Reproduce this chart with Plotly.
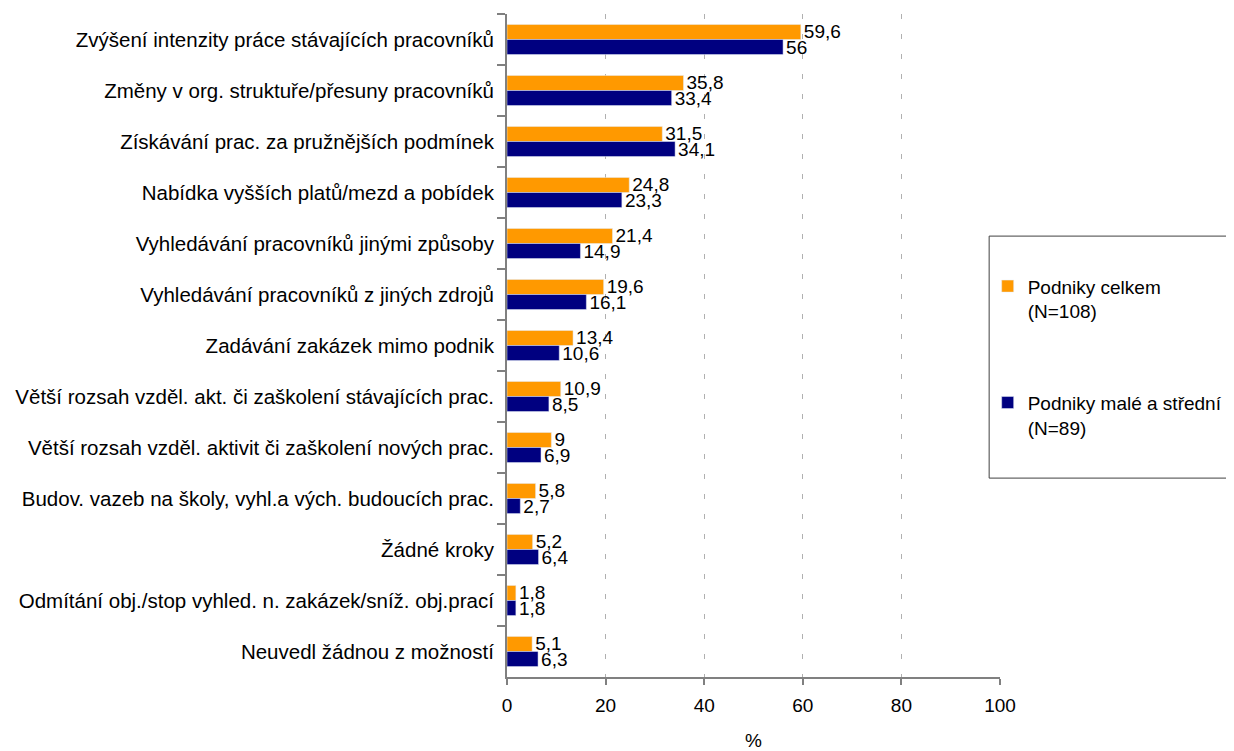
import plotly.graph_objects as go

categories = [
    "Zvýšení intenzity práce stávajících pracovníků",
    "Změny v org. struktuře/přesuny pracovníků",
    "Získávání prac. za pružnějších podmínek",
    "Nabídka vyšších platů/mezd a pobídek",
    "Vyhledávání pracovníků jinými způsoby",
    "Vyhledávání pracovníků z jiných zdrojů",
    "Zadávání zakázek mimo podnik",
    "Větší rozsah vzděl. akt. či zaškolení stávajících prac.",
    "Větší rozsah vzděl. aktivit či zaškolení nových prac.",
    "Budov. vazeb na školy, vyhl.a vých. budoucích prac.",
    "Žádné kroky",
    "Odmítání obj./stop vyhled. n. zakázek/sníž. obj.prací",
    "Neuvedl žádnou z možností",
]
celkem = [59.6, 35.8, 31.5, 24.8, 21.4, 19.6, 13.4, 10.9, 9, 5.8, 5.2, 1.8, 5.1]
male_stredni = [56, 33.4, 34.1, 23.3, 14.9, 16.1, 10.6, 8.5, 6.9, 2.7, 6.4, 1.8, 6.3]

name_celkem = "Podniky celkem<br>(N=108)"
name_male = "Podniky malé a střední<br>(N=89)"


def fmt(v):
    return f"{v:g}".replace(".", ",")


FONT = "Liberation Sans, Arial, sans-serif"

fig = go.Figure()
fig.add_trace(go.Bar(
    y=categories, x=celkem, orientation="h", name=name_celkem,
    marker_color="#FF9900", text=[fmt(v) for v in celkem],
    textposition="outside", constraintext="none", cliponaxis=False,
    textfont=dict(size=19, color="black"), legendgroup="a",
))
fig.add_trace(go.Bar(
    y=categories, x=male_stredni, orientation="h", name=name_male,
    marker_color="#000080", text=[fmt(v) for v in male_stredni],
    textposition="outside", constraintext="none", cliponaxis=False,
    textfont=dict(size=19, color="black"), legendgroup="b",
))

# page body has an 8px margin, so the figure is drawn 8px smaller
fig.update_layout(
    width=1226, height=743,
    margin=dict(l=499, r=234, t=6, b=74),
    paper_bgcolor="white", plot_bgcolor="white",
    font=dict(family=FONT, size=20.5, color="black"),
    barmode="group", bargap=0.41, bargroupgap=0,
    legend=dict(
        x=0.975, xanchor="left", y=0.618, yanchor="top",
        bgcolor="rgba(0,0,0,0)", tracegroupgap=64, valign="top",
        font=dict(size=19),
    ),
    showlegend=True,
)
fig.update_xaxes(
    range=[0, 100], dtick=20, showgrid=True, gridcolor="#b0b0b0",
    griddash="5px,15px", gridwidth=1, showline=True, linecolor="#808080",
    linewidth=2, ticks="outside", ticklen=6, tickcolor="#808080",
    tickwidth=2, ticklabelstandoff=4, tickfont=dict(size=19),
    title=dict(text="%", standoff=22, font=dict(size=19)), zeroline=False,
    automargin=False,
)
fig.update_yaxes(
    autorange="reversed", showline=True, linecolor="#808080", linewidth=2,
    ticks="outside", tickson="boundaries", ticklen=8, tickcolor="#808080",
    tickwidth=2, showgrid=False, ticklabelstandoff=7, automargin=False,
)
fig.add_shape(
    type="rect", xref="paper", yref="paper",
    x0=0.978, x1=1.48, y0=0.300, y1=0.665,
    line=dict(color="#404040", width=1), fillcolor="rgba(0,0,0,0)",
)

fig.write_html("out.html")
